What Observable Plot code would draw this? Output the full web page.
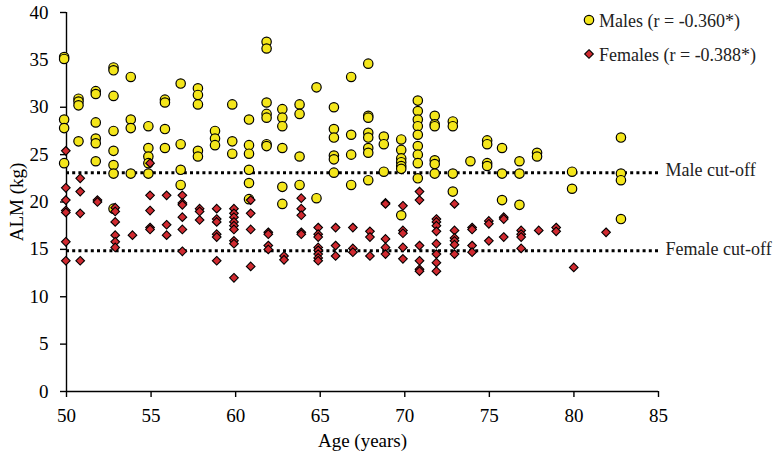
<!DOCTYPE html>
<html>
<head>
<meta charset="utf-8">
<script src="https://cdn.jsdelivr.net/npm/d3@7"></script>
<script src="https://cdn.jsdelivr.net/npm/@observablehq/plot@0.6"></script>
<style>
  body { margin: 0; background: #fff; }
  #wrap { position: relative; width: 776px; height: 460px; font-family: "Liberation Serif", serif; }
  #legend { position: absolute; left: 0; top: 0; pointer-events: none; }
</style>
</head>
<body>
<div id="wrap"></div>
<script>
// ---- Data ----
const maleAges = [49.86, 50.71, 51.73, 52.78, 53.80, 54.84, 55.82, 56.75, 57.77, 58.78, 59.80, 60.79,
  61.83, 62.76, 63.78, 64.78, 65.81, 66.83, 67.84, 68.76, 69.79, 70.77, 71.77, 72.84, 73.88, 74.87,
  75.75, 76.78, 77.82, 79.89, 82.78];
const maleALM = [
  [35.3, 35.1, 28.7, 27.8, 24.1],
  [30.9, 30.6, 30.2, 26.4],
  [31.7, 31.4, 28.4, 26.7, 26.2, 24.3],
  [34.2, 33.9, 31.2, 27.5, 25.4, 23.9, 23.0, 19.3],
  [33.2, 28.7, 27.8, 23.0],
  [28.0, 25.7, 24.8, 24.1, 23.0],
  [30.8, 30.5, 27.7, 25.7],
  [32.5, 26.1, 23.4, 21.8],
  [32.0, 31.3, 30.3, 25.4, 24.8],
  [27.5, 26.7, 26.0],
  [30.3, 26.4, 25.1],
  [28.7, 26.0, 25.1, 23.4, 22.0, 20.3],
  [36.9, 36.2, 30.5, 29.3, 28.9, 26.1, 25.9],
  [29.8, 28.9, 28.0, 25.7, 21.6, 19.8],
  [30.3, 29.3, 24.8, 21.8],
  [32.1, 20.4],
  [30.0, 27.7, 26.8, 24.9, 24.5, 23.1],
  [33.2, 27.1, 25.0, 21.8],
  [34.6, 29.1, 28.9, 27.3, 26.8, 25.7, 25.2, 22.3],
  [26.9, 26.1, 23.2],
  [26.6, 25.5, 24.6, 24.2, 23.8, 23.5, 18.6],
  [30.7, 29.6, 28.7, 28.0, 27.1, 25.9, 25.0, 24.1, 22.5],
  [29.1, 28.2, 28.0, 24.4, 24.0, 23.0],
  [28.5, 28.0, 23.0, 21.1],
  [24.3],
  [26.5, 26.1, 24.1, 23.8],
  [25.7, 23.0, 20.2],
  [24.3, 23.0, 19.7],
  [25.2, 24.8],
  [23.2, 21.4],
  [26.8, 23.0, 22.3, 18.2]
];

const femaleAges = [49.96, 50.81, 51.83, 52.88, 53.90, 54.94, 55.92, 56.85, 57.87, 58.88, 59.90, 60.89,
  61.93, 62.86, 63.88, 64.88, 65.91, 66.93, 67.94, 68.86, 69.89, 70.87, 71.87, 72.94, 73.98, 74.97,
  75.85, 76.88, 77.92, 78.95, 79.99, 81.90];
const femaleALM = [
  [25.4, 21.5, 20.2, 19.1, 18.9, 15.8, 13.8],
  [22.5, 21.1, 18.8, 13.8],
  [20.2, 20.0],
  [19.4, 19.0, 17.9, 16.5, 15.8, 15.2],
  [16.5],
  [24.1, 20.7, 19.1, 17.3, 17.1],
  [20.7, 17.6, 16.5],
  [20.7, 19.9, 19.7, 18.4, 17.1, 14.8],
  [19.3, 19.0, 18.1],
  [19.3, 18.2, 17.9, 16.6, 16.3, 13.8],
  [19.3, 18.8, 18.4, 17.9, 17.5, 17.1, 15.9, 15.6, 12.0],
  [20.2, 18.8, 17.1, 13.2],
  [16.8, 16.6, 15.4, 15.0],
  [14.3, 13.9],
  [20.4, 19.3, 18.6, 16.8, 16.6],
  [17.3, 16.6, 16.3, 15.2, 14.9, 14.5, 14.1, 13.8],
  [17.3, 15.4, 14.3],
  [17.3, 15.1, 14.7],
  [16.9, 16.3, 14.3],
  [19.9, 19.8, 16.1, 15.2, 14.5],
  [19.6, 17.0, 16.7, 15.2, 14.0],
  [21.1, 20.2, 15.4, 13.8, 12.9, 12.7],
  [18.2, 17.9, 17.5, 16.9, 15.6, 14.5, 13.6, 12.7],
  [19.8, 17.0, 16.2, 15.9, 15.5, 14.5],
  [17.3, 17.1, 15.4, 14.7],
  [18.0, 17.7, 15.9],
  [18.4, 18.2, 16.3],
  [17.0, 16.6, 16.3, 15.1],
  [17.0],
  [17.3, 16.9],
  [13.1],
  [16.8]
];

const cutoffValues = [23.1, 14.85];
const cutoffLabels = ["Male cut-off", "Female cut-off"];
const xTicks = [50, 55, 60, 65, 70, 75, 80, 85];
const yTicks = [0, 5, 10, 15, 20, 25, 30, 35, 40];
const legendLabels = ["Males (r = -0.360*)", "Females (r = -0.388*)"];
const xLabel = "Age (years)";
const yLabel = "ALM (kg)";

const yellow = "#f4e61b";
const red = "#d02a30";

// ---- Build tables ----
const males = maleAges.flatMap((a, i) => maleALM[i].map(v => ({age: a, alm: v})));
const females = femaleAges.flatMap((a, i) => femaleALM[i].map(v => ({age: a, alm: v})));
const cutoffs = cutoffValues.map((v, i) => ({v, label: cutoffLabels[i]}));

const font = "Liberation Serif, serif";

const chart = Plot.plot({
  width: 776,
  height: 460,
  marginLeft: 66,
  marginRight: 118,
  marginTop: 12,
  marginBottom: 69,
  style: {fontFamily: font, fontSize: "19px", color: "#000", background: "#fff", overflow: "visible"},
  x: {domain: [50, 85]},
  y: {domain: [0, 40]},
  marks: [
    Plot.ruleY(cutoffs, {y: "v", x1: 50, x2: 85, stroke: "#000", strokeWidth: 3, strokeDasharray: "3,3.2"}),
    Plot.text(cutoffs, {x: 85, y: "v", text: "label", textAnchor: "start", dx: 7, dy: -2, fontSize: 18, fill: "#222"}),
    Plot.ruleX([50], {y1: 0, y2: 40, stroke: "#000", strokeWidth: 1.4}),
    Plot.ruleY([0], {x1: 50, x2: 85, stroke: "#000", strokeWidth: 1.4}),
    Plot.axisX({ticks: xTicks, tickSize: 6, tickPadding: 11, strokeWidth: 1.4, fontSize: 19,
      label: xLabel, labelAnchor: "center", labelOffset: 55, labelArrow: "none"}),
    Plot.axisY({ticks: yTicks, tickSize: 6, tickPadding: 12, strokeWidth: 1.4, fontSize: 19,
      label: yLabel, labelAnchor: "center", labelOffset: 57, labelArrow: "none"}),
    Plot.dot(males, {x: "age", y: "alm", r: 4.7, fill: yellow, stroke: "#000", strokeWidth: 1.2}),
    Plot.dot(females, {x: "age", y: "alm", symbol: "diamond2", r: 3.9, fill: red, stroke: "#000", strokeWidth: 1.1})
  ]
});

const wrap = document.getElementById("wrap");
wrap.appendChild(chart);

// ---- Legend overlay ----
const leg = d3.select(wrap).append("svg")
  .attr("id", "legend").attr("width", 776).attr("height", 460);
const symbols = [d3.symbolCircle, d3.symbolDiamond2];
const fills = [yellow, red];
const sizes = [Math.PI * 4.7 * 4.7, Math.PI * 3.9 * 3.9];
legendLabels.forEach((lab, i) => {
  const cy = 20 + 34 * i;
  leg.append("path")
    .attr("d", d3.symbol(symbols[i], sizes[i])())
    .attr("transform", `translate(589,${cy})`)
    .attr("fill", fills[i]).attr("stroke", "#000").attr("stroke-width", i ? 1.1 : 1.2);
  leg.append("text")
    .attr("x", 599).attr("y", cy + 6.5)
    .attr("font-family", font).attr("font-size", 18).attr("fill", "#222")
    .text(lab);
});
</script>
</body>
</html>
